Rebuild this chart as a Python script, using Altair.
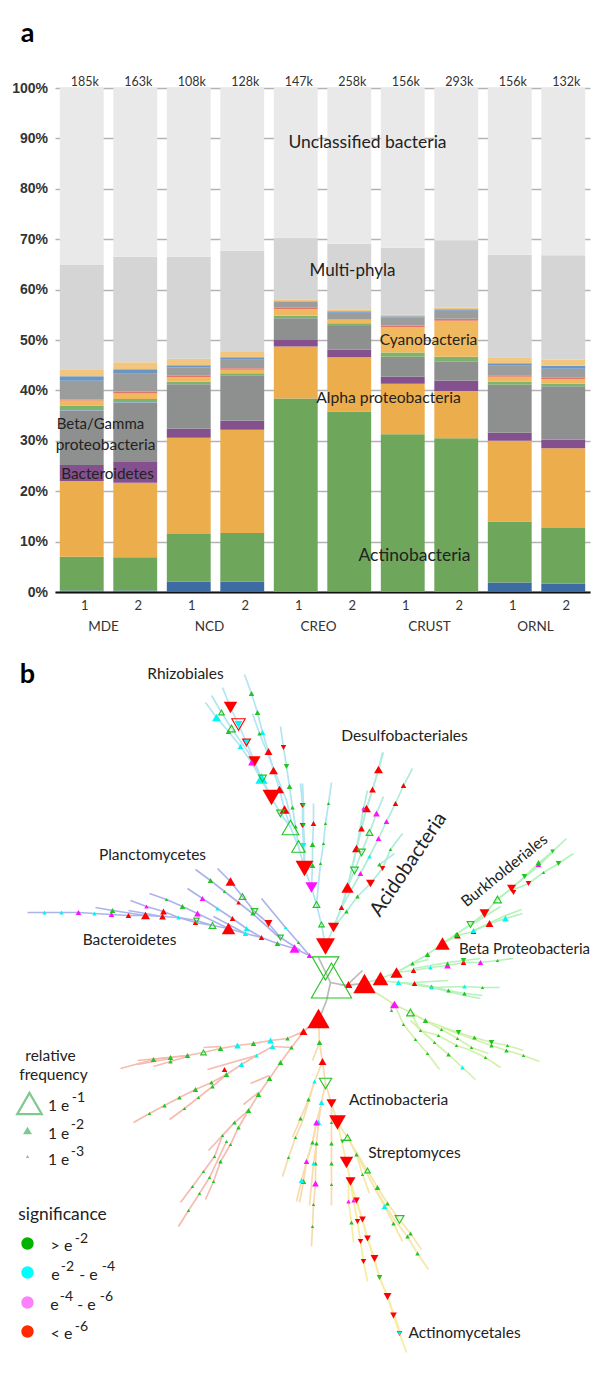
import altair as alt
import pandas as pd

FONT = "Lato"

# ---------- panel a: stacked composition ----------
bars = ["MDE1", "MDE2", "NCD1", "NCD2", "CREO1", "CREO2", "CRUST1", "CRUST2", "ORNL1", "ORNL2"]
counts = ["185k", "163k", "108k", "128k", "147k", "258k", "156k", "293k", "156k", "132k"]
# cumulative top of each stacked band, in percent
top_low_blue = [0.3, 0.3, 2.1, 2.1, 0.0, 0.1, 0.0, 0.0, 1.9, 1.7]
top_actino = [7.0, 6.9, 11.5, 11.7, 38.4, 35.8, 31.3, 30.5, 14.0, 12.7]
top_alpha = [22.0, 21.7, 30.6, 32.2, 48.7, 46.6, 41.3, 39.9, 30.0, 28.5]
top_bacteroid = [25.2, 25.8, 32.4, 34.0, 50.0, 48.1, 42.7, 41.9, 31.6, 30.2]
top_betagamma = [36.0, 37.6, 41.2, 43.0, 54.3, 52.8, 46.7, 45.7, 41.1, 40.8]
top_thinblue = [36.3, 37.9, 41.2, 43.0, 54.3, 52.8, 46.7, 45.7, 41.1, 40.8]
top_thingreen = [37.0, 38.3, 41.7, 43.4, 54.8, 53.3, 47.5, 46.7, 41.7, 41.3]
top_cyano = [38.0, 39.4, 42.6, 44.1, 56.1, 54.0, 52.6, 53.8, 42.7, 42.2]
top_red = [38.2, 39.8, 42.9, 44.4, 56.4, 54.1, 52.9, 54.2, 43.0, 42.5]
top_grey = [41.9, 43.3, 44.6, 46.1, 57.7, 55.4, 54.5, 55.8, 44.9, 44.3]
top_blue = [42.8, 44.2, 45.0, 46.6, 57.7, 55.7, 54.7, 56.1, 45.4, 44.9]
top_paleorange = [44.2, 45.6, 46.3, 47.6, 58.1, 56.1, 55.0, 56.4, 46.6, 46.1]
top_multi = [64.9, 66.5, 66.5, 67.7, 70.3, 69.1, 68.3, 69.8, 66.9, 66.8]
top_unclass = [100.0] * 10

series = [
    ("low blue", top_low_blue, "#3d6ca3"),
    ("Actinobacteria", top_actino, "#6ea65b"),
    ("Alpha proteobacteria", top_alpha, "#ecae4c"),
    ("Bacteroidetes", top_bacteroid, "#84518e"),
    ("Beta/Gamma proteobacteria", top_betagamma, "#8e9090"),
    ("thin blue", top_thinblue, "#7da5cc"),
    ("thin green", top_thingreen, "#7fb36c"),
    ("Cyanobacteria", top_cyano, "#f0b95f"),
    ("red", top_red, "#e3746a"),
    ("grey", top_grey, "#9b9d9d"),
    ("blue", top_blue, "#6a96c6"),
    ("pale orange", top_paleorange, "#f3c680"),
    ("Multi-phyla", top_multi, "#d5d5d5"),
    ("Unclassified bacteria", top_unclass, "#e9e9e9"),
]
rows = []
for i, b in enumerate(bars):
    low = 0.0
    for name, tops, _ in series:
        rows.append({"bar": b, "series": name, "low": low, "high": tops[i]})
        low = tops[i]
stack = pd.DataFrame(rows)
stack = stack[stack.high > stack.low]

x_band = alt.Scale(domain=bars, paddingInner=0.18, paddingOuter=0.09)
y_pct = alt.Scale(domain=[0, 100], nice=False)
PX_X = alt.Scale(domain=[54.5, 589.5], nice=False, zero=False)

bar_layer = alt.Chart(stack).mark_bar().encode(
    x=alt.X("bar:N", scale=x_band, sort=bars, title=None, axis=alt.Axis(
        labelExpr="slice(datum.value, -1)", labelAngle=0, ticks=False, labelPadding=7,
        labelOffset=3, labelFont=FONT, labelFontSize=13, labelColor="#333333",
        domainColor="#111111", domainWidth=2, grid=False)),
    y=alt.Y("low:Q", scale=y_pct, title=None, axis=alt.Axis(
        values=list(range(0, 101, 10)), labelExpr="datum.value + '%'", ticks=False, domain=False,
        labelFont="Liberation Sans", labelFontWeight="bold", labelFontSize=14, labelColor="#333333",
        labelPadding=7.5, grid=True, gridColor="#b3b3b3", gridWidth=1.4, gridOpacity=1)),
    y2="high:Q",
    color=alt.Color("series:N", legend=None, sort=None, scale=alt.Scale(
        domain=[s[0] for s in series], range=[s[2] for s in series])),
)
count_layer = alt.Chart(pd.DataFrame({"bar": bars, "n": counts, "v": [100] * 10})).mark_text(
    font=FONT, fontSize=12.5, color="#333333", dx=3, dy=-6
).encode(
    x=alt.X("bar:N", scale=x_band, sort=bars, axis=None),
    y=alt.Y("v:Q", scale=y_pct, axis=None),
    text="n:N",
)

# label, x, y, size, angle, colour (positions)
labels_a = [
    ("Unclassified bacteria", 367, 142, 17.5, 0, "#222222"),
    ("Multi-phyla", 352, 270, 17, 0, "#222222"),
    ("Cyanobacteria", 428, 339, 15.5, 0, "#222222"),
    ("Alpha proteobacteria", 388, 397, 15.7, 0, "#222222"),
    ("Actinobacteria", 414, 555, 17.5, 0, "#222222"),
    ("Beta/Gamma", 100, 423, 15, 0, "#222222"),
    ("proteobacteria", 105, 444, 15.5, 0, "#222222"),
    ("Bacteroidetes", 107, 473, 15.3, 0, "#222222"),
    ("MDE", 103, 626, 13.5, 0, "#333333"),
    ("NCD", 209, 626, 13.5, 0, "#333333"),
    ("CREO", 318, 626, 13.5, 0, "#333333"),
    ("CRUST", 429, 626, 13.5, 0, "#333333"),
    ("ORNL", 535, 626, 13.5, 0, "#333333"),
]
heading_a = [("a", 27, 33, 27, 0, "#000000")]
COLS = ["text", "x", "y", "size", "angle", "ink"]


def text_layer(table, yscale, weight="normal"):
    return alt.Chart(pd.DataFrame(table, columns=COLS)).mark_text(font=FONT, fontWeight=weight).encode(
        x=alt.X("x:Q", scale=PX_X, axis=None),
        y=alt.Y("y:Q", scale=yscale, axis=None),
        text="text:N",
        size=alt.Size("size:Q", scale=None, legend=None),
        angle=alt.Angle("angle:Q", scale=None),
        color=alt.Color("ink:N", scale=None, legend=None),
    )


PX_YA = alt.Scale(domain=[591.5, 87.5], nice=False, zero=False)
panel_a = alt.layer(
    bar_layer, count_layer, text_layer(labels_a, PX_YA), text_layer(heading_a, PX_YA, "bold"),
).resolve_scale(x="independent", y="independent", color="independent", size="independent").properties(
    width=535, height=504)

# ---------- panel b: tree ----------
rhizobiales = [
    [(325, 946), (321, 924), (316, 904), (311, 887), (304, 868), (298, 846), (290, 827), (280, 813), (271, 797),
     (261, 778), (254, 761), (246, 742), (238, 724), (230, 707), (222, 687)],
    [(271, 797), (251, 762), (240, 746), (228, 731), (216, 717), (205, 702)],
    [(271, 797), (248, 752), (231, 728), (221, 712), (211, 695)],
    [(290, 827), (284, 809), (279, 789), (273, 770), (268, 751), (262, 732), (257, 712), (251, 693), (244, 674)],
    [(292, 826), (286, 800), (272, 765), (259, 733), (252, 713)],
    [(298, 846), (295, 826), (292, 807), (289, 786), (286, 766), (283, 747), (280, 726)],
    [(304, 868), (303, 845), (302, 825), (302, 805), (300, 783)],
    [(304, 868), (304, 845), (303, 825), (303, 805), (302, 783)],
    [(311, 887), (312, 865), (312, 844), (313, 823), (313, 803)],
    [(316, 904), (320, 863), (323, 843), (325, 823), (328, 803), (331, 782)],
]
planctomycetes = [
    [(309, 955), (294, 948), (277, 943), (261, 937), (245, 933), (228, 928), (212, 925), (195, 922), (178, 917),
     (162, 916), (145, 915), (128, 915), (111, 914), (94, 913), (78, 912), (61, 912), (44, 912), (27, 912)],
    [(309, 955), (298, 942), (285, 927), (261, 898)],
    [(300, 950), (280, 937), (268, 923), (254, 911), (242, 896), (230, 881), (217, 868)],
    [(280, 938), (252, 913), (224, 891), (210, 880), (195, 869)],
    [(261, 937), (246, 928), (232, 918), (217, 908), (202, 898), (187, 888)],
    [(228, 928), (197, 913), (182, 906), (166, 899), (149, 893)],
    [(212, 925), (196, 920), (178, 917), (163, 911), (146, 906), (130, 900)],
    [(162, 916), (128, 910)],
    [(145, 915), (112, 910), (95, 907)],
    [(245, 933), (213, 916)],
]
acidobacteria = [
    [(325, 946), (333, 927), (346, 911), (357, 896), (370, 883), (382, 868), (390, 849), (402, 833)],
    [(379, 864), (394, 853)],
    [(333, 927), (341, 907), (360, 873), (369, 856), (378, 838), (386, 821), (395, 803), (403, 785), (412, 768)],
    [(333, 927), (341, 907), (347, 887), (356, 848), (361, 828), (366, 808), (372, 789), (378, 769), (382, 752)],
    [(341, 907), (347, 887), (356, 848), (361, 828), (366, 808), (372, 789), (378, 769), (383, 752)],
    [(347, 887), (354, 870), (361, 852), (369, 832), (376, 813), (383, 796)],
    [(356, 848), (363, 808), (367, 790)],
]
beta = [
    [(340, 985), (348, 984), (364, 983), (380, 978), (396, 972), (427, 954), (442, 943), (457, 935), (473, 931),
     (489, 923), (505, 918), (522, 913)],
    [(473, 930), (505, 915), (521, 909)],
    [(442, 943), (470, 924), (484, 913), (497, 899), (511, 888), (524, 876), (538, 863), (552, 851), (566, 838)],
    [(511, 890), (528, 883), (543, 872), (558, 863), (573, 853)],
    [(497, 899), (535, 868), (552, 852)],
    [(470, 925), (500, 906)],
    [(396, 972), (412, 963), (428, 959)],
    [(396, 972), (413, 970), (430, 967), (447, 965), (463, 962), (480, 962), (497, 960), (513, 958)],
    [(413, 968), (447, 962), (480, 958)],
    [(380, 980), (398, 982), (414, 983), (431, 986), (448, 990), (464, 993), (482, 995)],
    [(398, 982), (431, 987), (464, 986), (482, 987), (499, 987)],
    [(414, 982), (448, 980)],
    [(431, 987), (464, 995), (480, 998)],
]
lower_right = [
    [(372, 990), (394, 1004), (410, 1012), (425, 1020), (441, 1026), (458, 1032), (474, 1037), (491, 1042),
     (507, 1045), (523, 1050)],
    [(410, 1012), (441, 1029), (457, 1038), (471, 1047), (488, 1053)],
    [(441, 1027), (474, 1039), (491, 1045), (506, 1050), (523, 1055), (539, 1061)],
    [(410, 1012), (420, 1030), (438, 1035), (456, 1045), (468, 1049), (485, 1057), (500, 1067)],
    [(394, 1004), (403, 1024), (415, 1039), (427, 1053), (439, 1069)],
    [(410, 1020), (434, 1042), (448, 1054), (462, 1067), (475, 1079)],
    [(391, 1002), (391, 1010)],
]
lower_left = [
    [(318, 1018), (303, 1031), (287, 1038), (270, 1040), (253, 1043), (237, 1045), (220, 1048), (203, 1052),
     (187, 1055), (170, 1057), (153, 1059), (120, 1068)],
    [(220, 1046), (203, 1047)],
    [(187, 1055), (137, 1060)],
    [(170, 1058), (137, 1064)],
    [(187, 1056), (153, 1066)],
    [(303, 1031), (291, 1047), (272, 1046), (256, 1055), (241, 1064), (226, 1074), (211, 1082), (195, 1089),
     (179, 1097), (164, 1105), (149, 1113), (133, 1122)],
    [(256, 1055), (207, 1069)],
    [(226, 1074), (212, 1086), (198, 1097), (184, 1108), (169, 1119)],
    [(291, 1047), (280, 1062), (269, 1078), (258, 1094), (248, 1110), (238, 1127), (230, 1144), (220, 1161),
     (213, 1181), (205, 1199)],
    [(248, 1110), (234, 1122), (222, 1135), (214, 1156), (203, 1171), (192, 1186), (180, 1202)],
    [(226, 1141), (209, 1177), (199, 1193), (188, 1210), (178, 1226)],
    [(234, 1122), (208, 1150)],
    [(269, 1075), (250, 1083)],
    [(258, 1092), (243, 1104)],
]
actinobacteria = [
    [(318, 1020), (319, 1042), (322, 1061), (325, 1083), (331, 1103), (337, 1122)],
    [(319, 1042), (312, 1060)],
    [(322, 1061), (314, 1081), (308, 1099), (300, 1118), (292, 1137)],
    [(314, 1081), (303, 1118), (295, 1137), (288, 1157), (282, 1176)],
    [(325, 1083), (321, 1102), (318, 1122), (316, 1143), (315, 1163), (315, 1183), (313, 1204), (312, 1226), (311, 1246)],
    [(321, 1102), (316, 1122), (312, 1142), (306, 1161), (301, 1180), (296, 1201)],
    [(316, 1122), (312, 1142), (306, 1161), (303, 1181), (299, 1202)],
    [(316, 1143), (313, 1163), (309, 1205)],
    [(331, 1103), (331, 1122), (331, 1143), (331, 1163), (331, 1184), (331, 1205)],
]
streptomyces = [
    [(337, 1122), (347, 1137), (356, 1154), (362, 1174), (369, 1193)],
    [(347, 1137), (367, 1170), (377, 1187), (387, 1203), (399, 1219), (410, 1233), (421, 1249)],
    [(356, 1154), (374, 1187), (384, 1206), (393, 1223), (402, 1241)],
    [(374, 1187), (393, 1218), (407, 1236), (417, 1253), (428, 1269)],
]
actinomycetales = [
    [(337, 1122), (346, 1162), (350, 1181), (356, 1200), (362, 1219), (367, 1238), (374, 1258), (379, 1277),
     (387, 1296), (393, 1315), (399, 1333), (406, 1352)],
    [(350, 1181), (353, 1200), (357, 1221), (360, 1241), (363, 1261), (367, 1281)],
    [(348, 1181), (348, 1201), (351, 1222), (353, 1242)],
    [(356, 1200), (367, 1238), (379, 1277), (387, 1296), (394, 1315), (400, 1333)],
]
core = [
    [(318, 957), (330, 982), (346, 985), (362, 970)],
    [(330, 982), (326, 1000), (319, 1018)],
    [(346, 985), (364, 983)],
]
clades = [
    ("Rhizobiales", rhizobiales, "#b2e5f2"),
    ("Planctomycetes", planctomycetes, "#acb3ec"),
    ("Acidobacteria", acidobacteria, "#b0ecdb"),
    ("Beta", beta, "#b4f3bb"),
    ("Lower right", lower_right, "#d2f1ad"),
    ("Lower left", lower_left, "#f6bbb1"),
    ("Actinobacteria", actinobacteria, "#f7dbad"),
    ("Streptomyces", streptomyces, "#f6e6aa"),
    ("Actinomycetales", actinomycetales, "#f7eca0"),
    ("Core", core, "#bbbbbb"),
]
line_rows = []
for cname, paths, _ in clades:
    for p, path in enumerate(paths):
        for i, (px, py) in enumerate(path):
            line_rows.append({"clade": cname, "path": f"{cname}{p}", "i": i, "x": px, "y": py})
lines = pd.DataFrame(line_rows)

# x, y, direction, width, significance
filled_nodes = [
    # Rhizobiales
    (325, 946, "d", 17, "r"), (311, 887, "d", 11, "m"), (304, 868, "d", 16, "r"), (271, 797, "d", 16, "r"),
    (261, 778, "u", 11, "c"), (254, 761, "d", 11, "r"), (251, 762, "u", 6, "m"), (240, 746, "u", 5, "c"),
    (238, 724, "d", 7, "c"), (230, 707, "d", 12, "r"), (228, 731, "u", 4, "g"), (216, 717, "u", 8, "c"),
    (246, 742, "d", 4, "c"), (284, 809, "u", 9, "r"), (279, 789, "u", 8, "r"), (273, 770, "u", 8, "r"),
    (268, 751, "u", 7, "r"), (262, 732, "u", 5, "c"), (259, 733, "u", 3, "g"), (257, 712, "u", 4, "g"),
    (251, 693, "u", 5, "g"), (283, 747, "d", 5, "r"), (286, 766, "d", 5, "g"), (289, 786, "u", 4, "g"),
    (292, 807, "u", 3, "g"), (295, 826, "u", 3, "g"), (302, 805, "d", 5, "r"), (302, 825, "d", 5, "r"),
    (303, 805, "d", 3, "g"), (303, 825, "d", 3, "g"), (303, 845, "d", 5, "c"), (313, 823, "u", 5, "r"),
    (312, 844, "u", 4, "g"), (312, 865, "u", 4, "g"), (320, 863, "u", 2, "g"), (323, 843, "u", 2, "g"),
    (325, 823, "u", 2, "g"), (328, 803, "u", 2, "g"),
    # Planctomycetes / Bacteroidetes
    (309, 955, "u", 5, "m"), (294, 948, "u", 9, "m"), (277, 943, "u", 4, "g"), (261, 937, "u", 5, "r"),
    (245, 933, "u", 5, "c"), (228, 928, "u", 12, "r"), (195, 922, "u", 5, "r"), (178, 917, "u", 3, "c"),
    (162, 916, "u", 6, "r"), (145, 915, "u", 8, "r"), (128, 915, "u", 4, "r"), (111, 914, "u", 4, "m"),
    (94, 913, "u", 3, "c"), (78, 912, "u", 4, "m"), (61, 912, "u", 3, "c"), (44, 912, "u", 3, "c"),
    (298, 942, "u", 2, "g"), (285, 927, "u", 2, "c"), (246, 928, "u", 4, "c"), (230, 881, "u", 9, "r"),
    (268, 923, "d", 7, "r"), (238, 902, "u", 3, "r"), (224, 891, "u", 2, "g"), (252, 913, "u", 3, "g"),
    (210, 880, "u", 4, "g"), (232, 918, "u", 5, "r"), (217, 908, "u", 3, "c"), (202, 898, "u", 4, "m"),
    (197, 913, "u", 6, "m"), (182, 906, "u", 5, "g"), (166, 899, "u", 2, "g"), (146, 906, "u", 3, "m"),
    (163, 911, "u", 6, "r"), (112, 910, "u", 4, "g"),
    # Acidobacteria
    (333, 927, "d", 10, "r"), (346, 911, "u", 3, "g"), (357, 896, "u", 3, "g"), (370, 883, "d", 8, "r"),
    (382, 868, "d", 5, "r"), (379, 864, "u", 3, "g"), (390, 849, "u", 2, "g"), (403, 785, "u", 4, "r"),
    (395, 803, "u", 4, "r"), (386, 821, "u", 4, "m"), (378, 838, "u", 4, "m"), (369, 856, "u", 3, "c"),
    (360, 873, "u", 4, "m"), (341, 907, "u", 5, "r"), (378, 769, "u", 8, "r"), (372, 789, "u", 6, "r"),
    (366, 808, "u", 8, "r"), (361, 828, "u", 6, "r"), (356, 848, "u", 8, "r"), (347, 887, "u", 11, "r"),
    (376, 813, "u", 6, "m"), (363, 808, "u", 3, "m"),
    # Beta proteobacteria
    (348, 984, "u", 7, "r"), (364, 983, "u", 20, "r"), (380, 978, "u", 14, "r"), (396, 972, "u", 11, "r"),
    (427, 954, "u", 4, "g"), (442, 943, "u", 13, "r"), (457, 935, "u", 6, "r"), (456, 934, "u", 4, "g"),
    (473, 931, "u", 5, "r"), (473, 930, "u", 4, "c"), (489, 923, "u", 7, "r"), (505, 918, "u", 6, "c"),
    (484, 913, "d", 9, "r"), (511, 888, "d", 8, "r"), (513, 892, "d", 4, "r"), (524, 876, "d", 5, "g"),
    (538, 864, "u", 4, "m"), (538, 862, "u", 4, "g"), (552, 851, "d", 3, "g"), (528, 883, "d", 4, "r"),
    (543, 872, "u", 2, "g"), (558, 863, "d", 4, "g"), (413, 970, "u", 5, "r"), (412, 963, "u", 3, "g"),
    (430, 967, "u", 3, "c"), (447, 965, "u", 6, "m"), (447, 963, "u", 3, "g"), (463, 962, "u", 5, "r"),
    (463, 960, "d", 5, "g"), (480, 962, "u", 4, "m"), (497, 960, "u", 2, "g"), (398, 982, "u", 4, "c"),
    (414, 983, "u", 5, "r"), (431, 986, "u", 3, "g"), (431, 987, "u", 3, "c"), (448, 990, "u", 3, "g"),
    (464, 993, "u", 3, "g"), (464, 986, "u", 3, "c"), (482, 987, "u", 2, "g"),
    # Lower right
    (394, 1004, "u", 8, "m"), (391, 1010, "u", 2, "g"), (425, 1020, "u", 4, "g"), (441, 1029, "u", 2, "g"),
    (458, 1032, "d", 4, "g"), (474, 1037, "u", 3, "g"), (491, 1042, "d", 4, "g"), (507, 1045, "u", 2, "g"),
    (457, 1038, "u", 2, "g"), (471, 1047, "u", 2, "g"), (491, 1045, "u", 3, "g"), (506, 1050, "u", 3, "g"),
    (523, 1055, "u", 2, "g"), (420, 1030, "u", 2, "g"), (438, 1035, "u", 2, "g"), (456, 1045, "u", 2, "g"),
    (485, 1057, "u", 2, "g"), (403, 1024, "u", 2, "g"), (415, 1039, "u", 2, "g"), (427, 1053, "u", 2, "g"),
    (434, 1042, "u", 2, "g"), (448, 1054, "u", 3, "g"), (462, 1067, "u", 3, "c"),
    # Lower left
    (318, 1018, "u", 20, "r"), (303, 1031, "u", 7, "r"), (287, 1038, "u", 3, "g"), (270, 1040, "u", 6, "c"),
    (253, 1043, "u", 4, "g"), (237, 1045, "u", 6, "c"), (220, 1048, "u", 4, "g"), (187, 1055, "u", 5, "g"),
    (170, 1057, "u", 5, "g"), (153, 1059, "u", 4, "g"), (170, 1061, "u", 3, "g"), (291, 1047, "u", 3, "g"),
    (272, 1046, "u", 4, "c"), (256, 1055, "u", 3, "c"), (241, 1064, "u", 4, "c"), (224, 1069, "u", 5, "r"),
    (226, 1074, "u", 4, "g"), (211, 1082, "u", 3, "g"), (212, 1086, "u", 3, "g"), (195, 1089, "u", 4, "g"),
    (179, 1097, "u", 3, "g"), (164, 1105, "u", 3, "g"), (149, 1113, "u", 2, "g"), (198, 1097, "u", 2, "g"),
    (184, 1108, "u", 2, "g"), (280, 1062, "u", 5, "g"), (269, 1078, "u", 5, "g"), (258, 1094, "u", 5, "g"),
    (248, 1110, "u", 4, "g"), (234, 1122, "u", 3, "g"), (238, 1127, "u", 3, "g"), (222, 1135, "u", 2, "g"),
    (230, 1144, "u", 2, "g"), (226, 1141, "u", 2, "g"), (214, 1156, "u", 2, "g"), (220, 1161, "u", 3, "g"),
    (213, 1181, "u", 2, "g"), (203, 1171, "u", 2, "g"), (209, 1177, "u", 2, "g"), (199, 1193, "u", 2, "g"),
    (188, 1210, "u", 2, "g"), (192, 1186, "u", 2, "g"),
    # Actinobacteria, Streptomyces, Actinomycetales
    (319, 1042, "u", 4, "g"), (322, 1061, "u", 7, "r"), (331, 1103, "d", 9, "r"), (337, 1122, "d", 15, "r"),
    (346, 1162, "d", 12, "r"), (350, 1181, "d", 9, "r"), (314, 1081, "u", 3, "c"), (308, 1099, "u", 3, "g"),
    (300, 1118, "u", 3, "g"), (295, 1137, "u", 2, "g"), (288, 1157, "u", 2, "g"), (321, 1102, "u", 5, "c"),
    (318, 1122, "u", 4, "c"), (316, 1122, "u", 6, "m"), (316, 1143, "u", 3, "g"), (312, 1142, "u", 3, "g"),
    (315, 1163, "u", 3, "g"), (313, 1163, "u", 3, "c"), (306, 1161, "u", 5, "m"), (315, 1183, "u", 6, "m"),
    (303, 1181, "u", 4, "g"), (301, 1180, "u", 5, "c"), (313, 1204, "u", 2, "g"), (312, 1226, "u", 2, "g"),
    (331, 1122, "u", 2, "g"), (331, 1143, "u", 3, "g"), (331, 1163, "u", 3, "g"), (331, 1184, "u", 2, "g"),
    (342, 1141, "d", 3, "g"), (356, 1154, "u", 3, "g"), (362, 1174, "u", 2, "g"), (377, 1187, "u", 4, "g"),
    (387, 1203, "u", 3, "g"), (384, 1206, "u", 4, "c"), (393, 1223, "u", 3, "g"), (410, 1233, "u", 3, "g"),
    (407, 1236, "u", 3, "g"), (417, 1253, "u", 3, "g"), (356, 1200, "d", 6, "r"), (353, 1200, "u", 3, "m"),
    (348, 1201, "u", 3, "m"), (362, 1219, "d", 6, "r"), (357, 1221, "d", 4, "r"), (351, 1222, "u", 3, "g"),
    (367, 1238, "d", 6, "r"), (360, 1241, "d", 4, "r"), (374, 1258, "d", 7, "r"), (363, 1261, "d", 4, "r"),
    (379, 1277, "d", 5, "g"), (387, 1296, "d", 7, "r"), (393, 1315, "d", 6, "r"), (399, 1333, "d", 5, "r"),
    (399, 1333, "d", 3, "c"),
]
hollow_nodes = [
    (325, 968, "d", 24, "g"), (331, 980, "u", 36, "g"), (290, 827, "u", 15, "g"), (298, 846, "u", 12, "g"),
    (280, 813, "d", 7, "g"), (262, 778, "d", 7, "g"), (238, 724, "d", 12, "r"), (246, 742, "d", 7, "r"),
    (231, 728, "u", 7, "g"), (221, 712, "u", 5, "g"), (316, 904, "u", 6, "g"), (321, 924, "u", 5, "g"),
    (242, 896, "u", 6, "g"), (254, 911, "d", 6, "g"), (280, 937, "d", 5, "g"), (212, 925, "u", 6, "g"),
    (196, 920, "d", 5, "g"), (369, 832, "u", 6, "g"), (361, 852, "d", 7, "g"), (354, 870, "d", 7, "g"),
    (470, 924, "d", 6, "g"), (497, 899, "u", 7, "g"), (410, 1012, "u", 7, "g"), (203, 1052, "u", 5, "g"),
    (325, 1083, "d", 11, "g"), (347, 1137, "u", 6, "g"), (367, 1170, "u", 5, "g"), (399, 1219, "d", 8, "g"),
]

SIG = alt.Scale(domain=["g", "c", "m", "r"], range=["#22c322", "#00f5f5", "#ff10ff", "#ff0000"])
SHAPE = alt.Scale(domain=["u", "d"], range=["triangle-up", "triangle-down"])
PX_Y = alt.Scale(domain=[1370, 650], nice=False, zero=False)


def node_frame(table):
    df = pd.DataFrame(table, columns=["x", "y", "dir", "w", "sig"])
    df["area"] = (df.w + (df.w <= 4) * 1.0) ** 2 * 1.25
    return df


def node_layer(table, filled):
    return alt.Chart(node_frame(table)).mark_point(filled=filled, opacity=1, strokeWidth=1.1).encode(
        x=alt.X("x:Q", scale=PX_X, axis=None),
        y=alt.Y("y:Q", scale=PX_Y, axis=None),
        shape=alt.Shape("dir:N", scale=SHAPE, legend=None),
        size=alt.Size("area:Q", scale=None, legend=None),
        color=alt.Color("sig:N", scale=SIG, legend=None),
    )


branch_layer = alt.Chart(lines).mark_line(strokeWidth=1.7).encode(
    x=alt.X("x:Q", scale=PX_X, axis=None),
    y=alt.Y("y:Q", scale=PX_Y, axis=None),
    detail="path:N",
    order="i:Q",
    color=alt.Color("clade:N", legend=None, scale=alt.Scale(
        domain=[c[0] for c in clades], range=[c[2] for c in clades])),
)

# legend of panel b
legend_tri_x = [29, 27, 27]
legend_tri_y = [1103, 1130, 1156]
legend_tri_w = [22, 8, 3]
legend_tri_filled = [False, True, True]
legend_sig_y = [1243, 1272, 1302, 1331]
legend_sig_key = ["g", "c", "v", "o"]

tri_df = pd.DataFrame({"x": legend_tri_x, "y": legend_tri_y, "w": legend_tri_w, "f": legend_tri_filled})
tri_df["area"] = tri_df.w ** 2 * 1.25
legend_tri = [
    alt.Chart(tri_df[tri_df.f == flag]).mark_point(
        shape="triangle-up", filled=flag, opacity=1, color="#7fc98f", strokeWidth=2.2
    ).encode(
        x=alt.X("x:Q", scale=PX_X, axis=None), y=alt.Y("y:Q", scale=PX_Y, axis=None),
        size=alt.Size("area:Q", scale=None, legend=None),
    ) for flag in (False, True)
]
legend_sig = alt.Chart(pd.DataFrame({"x": [27] * 4, "y": legend_sig_y, "k": legend_sig_key})).mark_circle(
    size=154, opacity=1
).encode(
    x=alt.X("x:Q", scale=PX_X, axis=None), y=alt.Y("y:Q", scale=PX_Y, axis=None),
    color=alt.Color("k:N", legend=None, sort=None, scale=alt.Scale(
        domain=legend_sig_key, range=["#00b300", "#00ffff", "#ff80ff", "#ff2a00"])),
)

heading_b = [("b", 27, 674, 27, 0, "#000000")]
labels_b = [
    ("Rhizobiales", 185, 673, 15.5, 0, "#222222"),
    ("Desulfobacteriales", 404, 735, 15.6, 0, "#222222"),
    ("Planctomycetes", 152, 854, 15.5, 0, "#222222"),
    ("Bacteroidetes", 129, 939, 15.5, 0, "#222222"),
    ("Acidobacteria", 408, 864, 20, 304, "#222222"),
    ("Burkholderiales", 504, 870, 15.5, 321, "#222222"),
    ("Beta Proteobacteria", 524, 948, 15, 0, "#222222"),
    ("Actinobacteria", 398, 1099, 15.5, 0, "#222222"),
    ("Streptomyces", 414, 1152, 15.5, 0, "#222222"),
    ("Actinomycetales", 464, 1332, 15.5, 0, "#222222"),
    ("relative", 50, 1055, 15.5, 0, "#222222"),
    ("frequency", 53, 1074, 15.5, 0, "#222222"),
    ("1 e", 58, 1105, 15.5, 0, "#222222"),
    ("-1", 78, 1097, 14, 0, "#222222"),
    ("1 e", 58, 1133, 15.5, 0, "#222222"),
    ("-2", 77, 1124, 14, 0, "#222222"),
    ("1 e", 58, 1159, 15.5, 0, "#222222"),
    ("-3", 77, 1151, 14, 0, "#222222"),
    ("significance", 62, 1214, 17.4, 0, "#222222"),
    ("> e", 61, 1245, 16, 0, "#222222"),
    ("-2", 81, 1238, 14, 0, "#222222"),
    ("e", 55, 1274, 16, 0, "#222222"),
    ("-2", 67, 1266, 14, 0, "#222222"),
    ("- e", 88, 1274, 16, 0, "#222222"),
    ("-4", 108, 1266, 14, 0, "#222222"),
    ("e", 54, 1304, 16, 0, "#222222"),
    ("-4", 66, 1296, 14, 0, "#222222"),
    ("- e", 86, 1304, 16, 0, "#222222"),
    ("-6", 106, 1296, 14, 0, "#222222"),
    ("< e", 61, 1333, 16, 0, "#222222"),
    ("-6", 81, 1326, 14, 0, "#222222"),
]

panel_b = alt.layer(
    branch_layer, node_layer(filled_nodes, True), node_layer(hollow_nodes, False),
    legend_tri[0], legend_tri[1], legend_sig, text_layer(labels_b, PX_Y), text_layer(heading_b, PX_Y, "bold"),
).resolve_scale(color="independent", size="independent").properties(width=535, height=720)

chart = alt.vconcat(panel_a, panel_b, spacing=58.5, bounds="flush").properties(
    padding={"left": 3, "top": 11, "right": 0, "bottom": 0}
).configure_view(stroke=None)

chart.save("out.html", embed_options={"renderer": "svg", "actions": False})
